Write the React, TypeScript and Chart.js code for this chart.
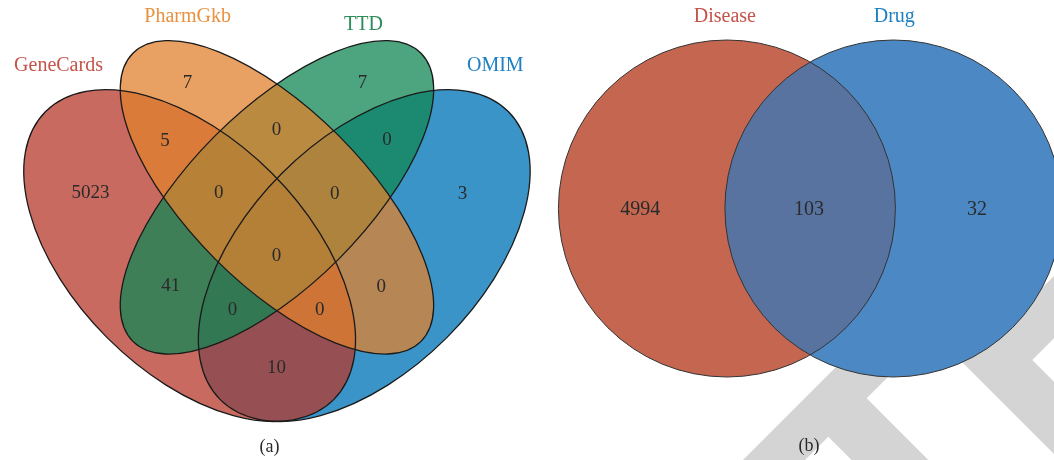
import { useEffect, useRef } from "react";
import { Chart, registerables } from "chart.js";

Chart.register(...registerables);

// ---------- DATA ----------
// Panel (a): four-set Venn
const setNamesA = ["GeneCards", "PharmGkb", "TTD", "OMIM"];
// region membership (G = GeneCards, P = PharmGkb, T = TTD, O = OMIM)
const regionSetsA = ["G", "P", "T", "O", "GP", "PT", "TO", "GPT", "PTO", "GPTO", "GT", "PO", "GTO", "GPO", "GO"];
const regionValuesA = [5023, 7, 7, 3, 5, 0, 0, 0, 0, 0, 41, 0, 0, 0, 10];

// Panel (b): two-set Venn
const setNamesB = ["Disease", "Drug"];
const regionSetsB = ["Disease", "Disease∩Drug", "Drug"];
const regionValuesB = [4994, 103, 32];

const panelLabels = ["(a)", "(b)"];

// ---------- LAYOUT (scale units) ----------
const W = 1054;
const H = 460;
// Venn (a) unit frame: scale = x0 + u*unit, y0 - v*unit
const frameA = { x0: -14.05, y0: 529.1, unit: 582 };
// ellipses in venn units: cx, cy, a, b, rotation (deg)
const ellipsesA = [
  { cx: 0.35, cy: 0.47, a: 0.35, b: 0.2, rot: 135 }, // GeneCards
  { cx: 0.5, cy: 0.57, a: 0.35, b: 0.15, rot: 135 }, // PharmGkb
  { cx: 0.5, cy: 0.57, a: 0.35, b: 0.15, rot: 45 }, // TTD
  { cx: 0.65, cy: 0.47, a: 0.35, b: 0.2, rot: 45 }, // OMIM
];
const fillsA = ["rgba(182,56,43,0.75)", "rgba(224,130,46,0.75)", "rgba(18,135,84,0.75)", "rgba(9,121,185,0.8)"];
const drawOrderA = [3, 0, 2, 1];
const titleColorsA = ["#C4534A", "#E8913F", "#2C8C5A", "#1E80C2"];
const titlePosA = [
  [58.5, 66],
  [187.6, 16.5],
  [363.4, 24.5],
  [495.3, 66],
];
const regionPosA = [
  [90.6, 193.4],
  [187.6, 82.8],
  [362.4, 82.8],
  [462.5, 194.4],
  [165, 141.3],
  [276.5, 130.2],
  [387, 140.3],
  [218.7, 193.4],
  [334.7, 194.4],
  [276.5, 256.4],
  [170.7, 285.8],
  [381.3, 286.8],
  [232.6, 310.5],
  [319.8, 310.5],
  [276.5, 367.9],
];

// Venn (b) circles (scale units)
const circlesB = [
  { cx: 726.9, cy: 208.5, r: 168.5 },
  { cx: 893.4, cy: 208.5, r: 168.5 },
];
const fillsB = ["#C46650", "#4C88C4"];
const overlapFillB = "#58739F";
const titleColorsB = ["#C4534A", "#1E80C2"];
const titlePosB = [
  [724.9, 16.5],
  [894.3, 16.5],
];
const regionPosB = [
  [640.3, 210],
  [809, 210],
  [976.9, 210],
];
const panelLabelPos = [
  [269.4, 447],
  [809, 446],
];

// watermark (decorative, scale units)
const watermark = [
  [[743, 460], [900, 303], [930, 335], [866.7, 398.3], [928.4, 460], [851.6, 460], [828.3, 436.7], [805, 460]],
  [[930, 330], [1054, 454], [1054, 381.7], [1032.3, 360], [1054, 338.3], [1054, 276], [1000, 330]],
];

const SERIF = "'Liberation Serif', 'Times New Roman', serif";

const vennPlugin = {
  id: "vennShapes",
  beforeDatasetsDraw(chart: any) {
    const { ctx, scales } = chart;
    const xs = scales.x;
    const ys = scales.y;
    const px = (v: number) => xs.getPixelForValue(v);
    const py = (v: number) => ys.getPixelForValue(v);
    ctx.save();
    // watermark
    ctx.fillStyle = "#D4D4D4";
    watermark.forEach((poly) => {
      ctx.beginPath();
      poly.forEach(([x, y], i) => (i === 0 ? ctx.moveTo(px(x), py(y)) : ctx.lineTo(px(x), py(y))));
      ctx.closePath();
      ctx.fill();
    });

    // panel (a)
    const ellPath = (e: any) => {
      const cx = px(frameA.x0 + e.cx * frameA.unit);
      const cy = py(frameA.y0 - e.cy * frameA.unit);
      const rx = Math.abs(px(e.a * frameA.unit) - px(0));
      const ry = Math.abs(px(e.b * frameA.unit) - px(0));
      ctx.beginPath();
      ctx.ellipse(cx, cy, rx, ry, (-e.rot * Math.PI) / 180, 0, Math.PI * 2);
    };
    drawOrderA.forEach((i) => {
      ellPath(ellipsesA[i]);
      ctx.fillStyle = fillsA[i];
      ctx.fill();
    });
    ctx.strokeStyle = "#1a1a1a";
    ctx.lineWidth = 1.3;
    ellipsesA.forEach((e) => {
      ellPath(e);
      ctx.stroke();
    });

    // panel (b)
    const circPath = (c: any) => {
      const cx = px(c.cx);
      const cy = py(c.cy);
      const r = Math.abs(px(c.cx + c.r) - px(c.cx));
      ctx.beginPath();
      ctx.arc(cx, cy, r, 0, Math.PI * 2);
    };
    circlesB.forEach((c, i) => {
      circPath(c);
      ctx.fillStyle = fillsB[i];
      ctx.fill();
    });
    ctx.save();
    circPath(circlesB[0]);
    ctx.clip();
    circPath(circlesB[1]);
    ctx.fillStyle = overlapFillB;
    ctx.fill();
    ctx.restore();
    ctx.strokeStyle = "#333333";
    ctx.lineWidth = 1;
    circlesB.forEach((c) => {
      circPath(c);
      ctx.stroke();
    });

    // titles
    ctx.textAlign = "center";
    ctx.textBaseline = "middle";
    ctx.font = `20px ${SERIF}`;
    setNamesA.forEach((n, i) => {
      ctx.fillStyle = titleColorsA[i];
      ctx.fillText(n, px(titlePosA[i][0]), py(titlePosA[i][1]));
    });
    setNamesB.forEach((n, i) => {
      ctx.fillStyle = titleColorsB[i];
      ctx.fillText(n, px(titlePosB[i][0]), py(titlePosB[i][1]));
    });
    ctx.fillStyle = "#2a2a2a";
    ctx.font = `18px ${SERIF}`;
    panelLabels.forEach((t, i) => {
      ctx.fillText(t, px(panelLabelPos[i][0]), py(panelLabelPos[i][1]));
    });
    ctx.restore();
  },
  afterDatasetsDraw(chart: any) {
    const { ctx } = chart;
    ctx.save();
    ctx.textAlign = "center";
    ctx.textBaseline = "middle";
    ctx.fillStyle = "#2a2a2a";
    chart.data.datasets.forEach((ds: any, di: number) => {
      const meta = chart.getDatasetMeta(di);
      ctx.font = `${ds.labelSize}px ${SERIF}`;
      meta.data.forEach((pt: any, i: number) => {
        ctx.fillText(String(ds.values[i]), pt.x, pt.y);
      });
    });
    ctx.restore();
  },
};

export default function App() {
  const ref = useRef<HTMLCanvasElement | null>(null);
  useEffect(() => {
    if (!ref.current) return;
    const chart = new Chart(ref.current, {
      type: "scatter",
      data: {
        datasets: [
          {
            label: "Panel a",
            data: regionSetsA.map((s, i) => ({ x: regionPosA[i][0], y: regionPosA[i][1], set: s })) as any,
            values: regionValuesA,
            labelSize: 19,
            pointRadius: 0,
            pointHoverRadius: 0,
          } as any,
          {
            label: "Panel b",
            data: regionSetsB.map((s, i) => ({ x: regionPosB[i][0], y: regionPosB[i][1], set: s })) as any,
            values: regionValuesB,
            labelSize: 20,
            pointRadius: 0,
            pointHoverRadius: 0,
          } as any,
        ],
      },
      options: {
        animation: false,
        responsive: false,
        devicePixelRatio: 1,
        events: [],
        layout: { padding: 0 },
        plugins: { legend: { display: false }, tooltip: { enabled: false }, title: { display: false } },
        scales: {
          x: { type: "linear", min: 0, max: W, display: false },
          y: { type: "linear", min: 0, max: H, reverse: true, display: false },
        },
      },
      plugins: [vennPlugin],
    });
    return () => chart.destroy();
  }, []);
  return (
    <div style={{ position: "fixed", left: 0, top: 0, width: W, height: H, background: "#fff" }}>
      <canvas ref={ref} width={W} height={H} style={{ width: W, height: H, display: "block" }} />
    </div>
  );
}
